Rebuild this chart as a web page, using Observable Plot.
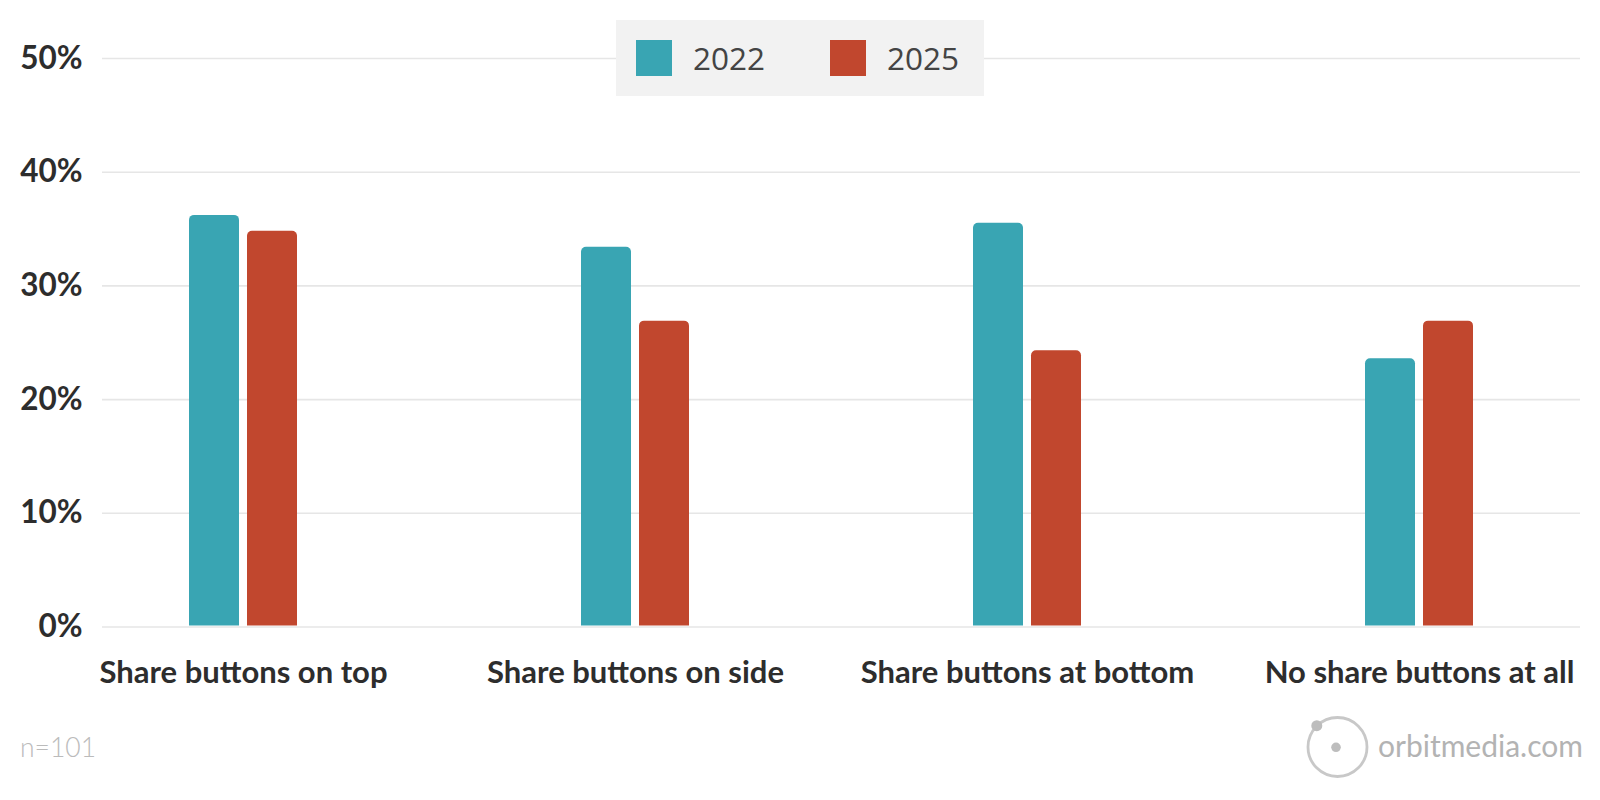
<!DOCTYPE html>
<html>
<head>
<meta charset="utf-8">
<script src="https://cdn.jsdelivr.net/npm/d3@7"></script>
<script src="https://cdn.jsdelivr.net/npm/@observablehq/plot@0.6"></script>
<style>
  html, body { margin: 0; padding: 0; background: #ffffff; }
  #wrap { position: relative; width: 1600px; height: 800px; overflow: hidden; font-family: Lato, "Open Sans", sans-serif; }
  #chart { position: absolute; left: 0; top: 0; }
  #legend { position: absolute; left: 616px; top: 20px; width: 368px; height: 76px; background: #f2f2f2; }
  .sw { position: absolute; top: 20px; width: 36px; height: 36px; }
  .lt { position: absolute; top: 17px; font-family: "Open Sans", sans-serif; font-size: 31.5px; line-height: 42px; color: #444444; }
  #footer { position: absolute; left: 0; top: 710px; }
</style>
</head>
<body>
<div id="wrap">
  <div id="chart"></div>
  <div id="legend"></div>
  <svg id="footer" width="1600" height="90" viewBox="0 0 1600 90"></svg>
</div>
<script>
// ---- data ----
const categories = ["Share buttons on top", "Share buttons on side", "Share buttons at bottom", "No share buttons at all"];
const years = ["2022", "2025"];
const values2022 = [36.2, 33.4, 35.5, 23.6];
const values2025 = [34.8, 26.9, 24.3, 26.9];
const yTicks = [0, 10, 20, 30, 40, 50];
const yearColors = ["#39a5b3", "#c1472e"];
const sampleNote = "n=101";
const sourceText = "orbitmedia.com";

const rows2022 = categories.map((c, i) => ({category: c, year: years[0], value: values2022[i]}));
const rows2025 = categories.map((c, i) => ({category: c, year: years[1], value: values2025[i]}));

const chart = Plot.plot({
  width: 1600,
  height: 710,
  marginTop: 58,
  marginBottom: 83.5,
  marginLeft: 102,
  marginRight: 20,
  style: {fontFamily: "Lato, sans-serif", background: "#ffffff", overflow: "visible"},
  x: {domain: categories, range: [188, 1473], paddingInner: 0.7247, paddingOuter: 0, align: 0.5, label: null},
  y: {domain: [0, 50], label: null},
  marks: [
    Plot.ruleY(yTicks, {stroke: "#e6e6e6", strokeWidth: 1.6}),
    Plot.barY(rows2022, {x: "category", y: "value", fill: yearColors[0], insetRight: 58, insetBottom: 1, ry1: 5}),
    Plot.barY(rows2025, {x: "category", y: "value", fill: yearColors[1], insetLeft: 58, insetBottom: 1, ry1: 5}),
    Plot.axisY(yTicks, {tickSize: 0, tickPadding: 20, tickFormat: d => d + "%", fontSize: 31.5, fontWeight: 700, fill: "#2d2d2d", label: null}),
    Plot.axisX({tickSize: 0, tickPadding: 34, fontSize: 31, fontWeight: 700, fill: "#2d2d2d", label: null})
  ]
});
document.getElementById("chart").appendChild(chart);

// ---- legend ----
const legend = document.getElementById("legend");
const legendOffsets = [20, 214];
years.forEach((y, i) => {
  const sw = document.createElement("div");
  sw.className = "sw";
  sw.style.left = legendOffsets[i] + "px";
  sw.style.background = yearColors[i];
  legend.appendChild(sw);
  const t = document.createElement("div");
  t.className = "lt";
  t.style.left = (legendOffsets[i] + 57) + "px";
  t.textContent = y;
  legend.appendChild(t);
});

// ---- footer ----
const ns = "http://www.w3.org/2000/svg";
const footer = document.getElementById("footer");
function el(tag, attrs, text) {
  const e = document.createElementNS(ns, tag);
  for (const k in attrs) e.setAttribute(k, attrs[k]);
  if (text) e.textContent = text;
  footer.appendChild(e);
  return e;
}
el("text", {x: 20, y: 47, "font-family": "Lato, sans-serif", "font-size": 26.5, "font-weight": 300, fill: "#bbbbbb"}, sampleNote);
el("circle", {cx: 1337.5, cy: 37, r: 29.5, fill: "none", stroke: "#c8c8c8", "stroke-width": 2.8});
el("circle", {cx: 1316.8, cy: 15.7, r: 5.5, fill: "#bdbdbd"});
el("circle", {cx: 1336, cy: 37.3, r: 4.8, fill: "#bdbdbd"});
el("text", {x: 1378, y: 47, "font-family": "Lato, sans-serif", "font-size": 30, "font-weight": 400, fill: "#b3b3b3"}, sourceText);
</script>
</body>
</html>
